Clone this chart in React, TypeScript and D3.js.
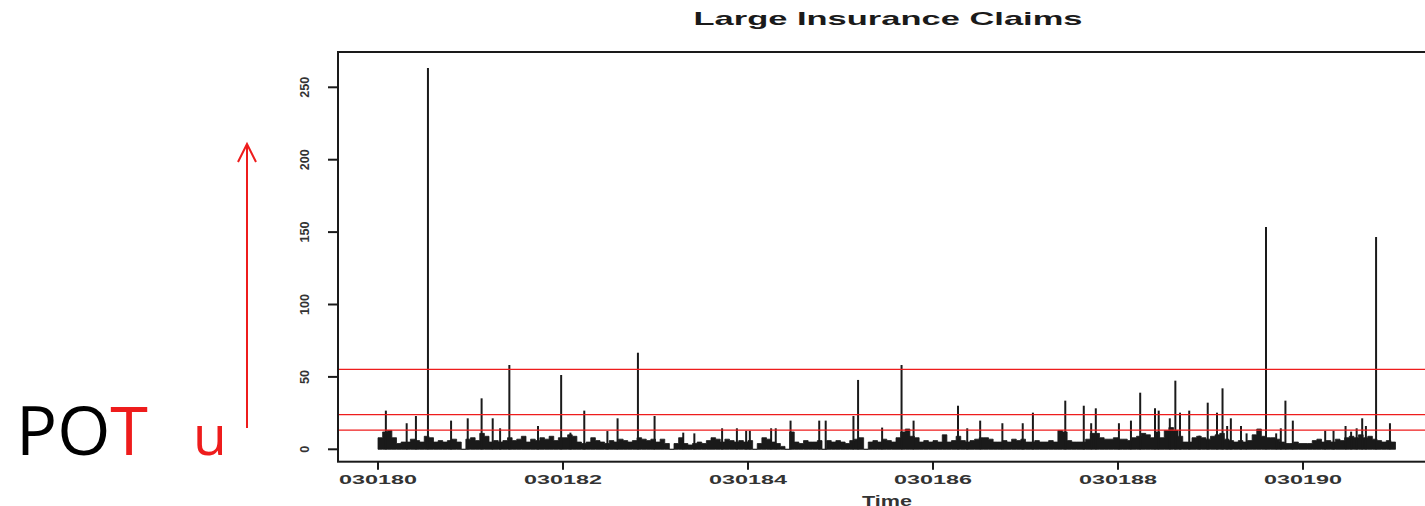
import * as d3 from 'd3'

const TITLE = 'Large Insurance Claims'
const X_LABEL = 'Time'
const X_TICKS = [1980, 1982, 1984, 1986, 1988, 1990]
const X_TICK_LABELS = ['030180', '030182', '030184', '030186', '030188', '030190']
const Y_TICKS = [0, 50, 100, 150, 200, 250]
// threshold levels u drawn in red
const THRESHOLDS = [55.2, 23.9, 13.3]

// individual claims that stand out of the dense base (time in years, size)
const CLAIM_TIMES = [
  1980.085, 1980.31, 1980.41, 1980.54, 1980.79, 1980.97, 1981.12, 1981.24, 1981.32, 1981.42,
  1981.73, 1981.98, 1982.08, 1982.23, 1982.48, 1982.59, 1982.81, 1982.99, 1983.30, 1983.42,
  1983.72, 1983.88, 1983.98, 1984.02, 1984.25, 1984.30, 1984.46, 1984.77, 1984.84, 1985.14,
  1985.19, 1985.45, 1985.66, 1985.79, 1986.27, 1986.37, 1986.51, 1986.75, 1986.97, 1987.08,
  1987.43, 1987.63, 1987.71, 1987.76, 1988.01, 1988.14, 1988.24, 1988.40, 1988.44, 1988.56,
  1988.62, 1988.67, 1988.77, 1988.88, 1988.97, 1989.07, 1989.13, 1989.18, 1989.22, 1989.33,
  1989.39, 1989.60, 1989.71, 1989.76, 1989.81, 1989.89, 1990.24, 1990.33, 1990.46, 1990.52,
  1990.58, 1990.64, 1990.68, 1990.79, 1990.94,
]
const CLAIM_SIZES = [
  26.7, 18, 23, 263.3, 19.8, 21.4, 35.2, 21.4, 14.5, 58.2,
  16.1, 51.3, 11.5, 26.7, 12.6, 21.4, 66.7, 23, 11.5, 11,
  14.5, 14.5, 12.8, 12.8, 14.5, 14.5, 19.8, 19.8, 19.8, 23,
  47.9, 15, 58.2, 19.8, 30.1, 14.5, 19.8, 18, 18, 25.3,
  33.6, 30.1, 18, 28.3, 18, 19.8, 39.1, 28.3, 26.7, 21.4,
  47.4, 25.3, 26.7, 9.4, 32.2, 25.3, 42.1, 16.1, 21.4, 16.1,
  11, 153.5, 11, 14.5, 33.6, 19.8, 12.8, 12.8, 16.1, 12.2,
  14.5, 21.4, 16.1, 146.6, 18,
]

// height of the dense base of small claims, read every 0.05 years from 1980
const BASE_START = 1980
const BASE_STEP = 0.05
const BASE_LEVELS = [
  8, 12, 13, 8, 4, 5, 5, 7, 6, 5, 9, 8, 5, 6, 5, 6, 7, 5, 0, 7,
  8, 6, 11, 9, 5, 6, 5, 6, 8, 6, 7, 9, 5, 7, 6, 8, 7, 9, 6, 8,
  8, 10, 9, 5, 4, 5, 8, 6, 5, 4, 6, 5, 7, 6, 5, 6, 8, 7, 6, 7,
  5, 7, 4, 0, 4, 8, 4, 3, 4, 5, 4, 6, 8, 7, 5, 7, 6, 5, 6, 5,
  6, 0, 4, 8, 7, 5, 4, 2, 0, 12, 5, 4, 6, 5, 5, 6, 0, 6, 5, 6,
  5, 4, 6, 7, 8, 0, 5, 6, 5, 7, 6, 5, 8, 12, 14, 9, 8, 5, 6, 5,
  6, 5, 10, 5, 6, 9, 6, 5, 6, 7, 8, 8, 7, 5, 5, 6, 5, 7, 6, 7,
  5, 5, 6, 5, 5, 6, 5, 13, 12, 6, 5, 5, 5, 7, 11, 11, 8, 7, 7, 8,
  7, 7, 6, 8, 9, 11, 10, 8, 12, 8, 13, 15, 13, 9, 5, 5, 8, 9, 8, 7,
  9, 10, 11, 7, 6, 5, 6, 5, 6, 10, 14, 9, 8, 8, 7, 5, 4, 4, 5, 4,
  4, 4, 6, 7, 5, 6, 5, 7, 6, 8, 9, 8, 10, 8, 9, 7, 6, 5, 6, 5,
]

const W = 1425
const H = 506
const FRAME = { left: 338, top: 52, right: 1440, bottom: 461.7 }
const INK = '#1a1a1a'
const RED = '#ee1c1c'
const AXIS_FONT = 'Liberation Sans, Arial, sans-serif'

export default function App() {
  const x = d3.scaleLinear().domain([1980, 1990]).range([378, 1303])
  const y = d3.scaleLinear().domain([0, 250]).range([449.3, 87.3])

  const basePts = BASE_LEVELS.map((v, i) => ({ t: BASE_START + i * BASE_STEP, v }))
  basePts.push({ t: BASE_START + BASE_LEVELS.length * BASE_STEP, v: BASE_LEVELS[BASE_LEVELS.length - 1] })

  const baseArea = d3.area<{ t: number; v: number }>()
    .x(d => x(d.t))
    .y0(y(0))
    .y1(d => y(d.v))
    .curve(d3.curveStepAfter)

  return (
    <svg width={W} height={H} style={{ position: 'absolute', left: 0, top: 0, background: '#fff' }}>
      {/* title */}
      <text x={888} y={25} textAnchor="middle" fontFamily={AXIS_FONT}
        fontWeight="bold" fontSize={19} fill={INK} textLength={389} lengthAdjust="spacingAndGlyphs">
        {TITLE}
      </text>

      {/* base of small claims */}
      <path d={baseArea(basePts) ?? ''} fill={INK} stroke={INK} strokeWidth={0.8} />

      {/* claims as vertical lines */}
      {CLAIM_TIMES.map((t, i) => (
        <line key={i} x1={x(t)} x2={x(t)} y1={y(0)} y2={y(CLAIM_SIZES[i])}
          stroke={INK} strokeWidth={2} />
      ))}

      {/* thresholds */}
      {THRESHOLDS.map((u, i) => (
        <line key={i} x1={FRAME.left} x2={FRAME.right} y1={y(u)} y2={y(u)}
          stroke={RED} strokeWidth={1.3} />
      ))}

      {/* frame */}
      <rect x={FRAME.left} y={FRAME.top} width={FRAME.right - FRAME.left}
        height={FRAME.bottom - FRAME.top} fill="none" stroke={INK} strokeWidth={2} />

      {/* y axis */}
      {Y_TICKS.map(v => (
        <g key={v}>
          <line x1={FRAME.left - 10} x2={FRAME.left} y1={y(v)} y2={y(v)} stroke={INK} strokeWidth={2} />
          <text transform={`translate(305,${y(v)}) rotate(-90)`} textAnchor="middle"
            dominantBaseline="central" fontFamily={AXIS_FONT}
            fontWeight="bold" fontSize={12} fill="#333"
            textLength={String(v).length * 7} lengthAdjust="spacingAndGlyphs">
            {v}
          </text>
        </g>
      ))}

      {/* x axis */}
      {X_TICKS.map((t, i) => (
        <g key={t}>
          <line x1={x(t)} x2={x(t)} y1={FRAME.bottom} y2={FRAME.bottom + 8} stroke={INK} strokeWidth={2} />
          <text x={x(t)} y={484} textAnchor="middle" fontFamily={AXIS_FONT}
            fontWeight="bold" fontSize={12} fill="#333" textLength={78} lengthAdjust="spacingAndGlyphs">
            {X_TICK_LABELS[i]}
          </text>
        </g>
      ))}
      <text x={887} y={506} textAnchor="middle" fontFamily={AXIS_FONT}
        fontWeight="bold" fontSize={15} fill="#333" textLength={50} lengthAdjust="spacingAndGlyphs">
        {X_LABEL}
      </text>

      {/* annotation on the left */}
      <text x={16} y={455} fontFamily="Open Sans, Noto Sans, sans-serif" fontSize={68}
        textLength={132} lengthAdjust="spacingAndGlyphs">
        <tspan fill="#000">PO</tspan><tspan fill={RED}>T</tspan>
      </text>
      <text x={193} y={455} fontFamily="Open Sans, Noto Sans, sans-serif" fontSize={55} fill={RED}>u</text>
      <line x1={247} x2={247} y1={428} y2={145} stroke={RED} strokeWidth={2} />
      <polyline points="238,162 247,144 256,162" fill="none" stroke={RED} strokeWidth={2} />
    </svg>
  )
}
